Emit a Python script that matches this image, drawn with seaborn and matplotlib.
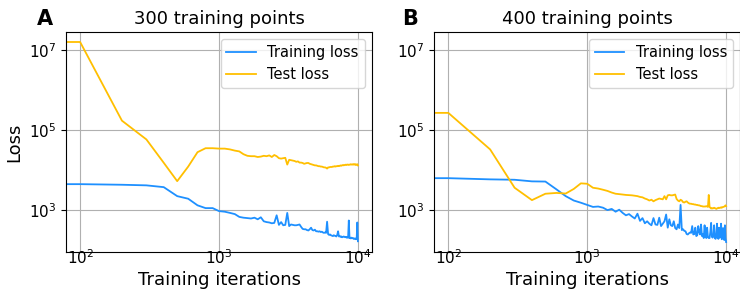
import matplotlib
matplotlib.use("Agg")
import numpy as np
import pandas as pd
import matplotlib.pyplot as plt
import seaborn as sns
from matplotlib.ticker import NullLocator

# loss values, stored as log10(loss), one every 100 iterations
iterations = list(range(0, 10001, 100))

train_a_log = [
    3.65, 3.65, 3.635, 3.62, 3.575, 3.35, 3.285, 3.12, 3.05, 3.05,
    2.975, 2.96, 2.93, 2.90, 2.83, 2.81, 2.80, 2.79, 2.81, 2.77,
    2.82, 2.72, 2.70, 2.69, 2.67, 2.68, 2.87, 2.63, 2.70, 2.62,
    2.63, 2.93, 2.60, 2.64, 2.63, 2.62, 2.62, 2.63, 2.64, 2.58,
    2.53, 2.52, 2.52, 2.50, 2.49, 2.52, 2.56, 2.50, 2.49, 2.51,
    2.47, 2.47, 2.46, 2.47, 2.45, 2.46, 2.44, 2.43, 2.44, 2.43,
    2.71, 2.40, 2.38, 2.39, 2.37, 2.36, 2.35, 2.37, 2.36, 2.35,
    2.34, 2.38, 2.47, 2.34, 2.35, 2.33, 2.34, 2.32, 2.33, 2.34,
    2.33, 2.32, 2.33, 2.31, 2.32, 2.31, 2.74, 2.30, 2.31, 2.29,
    2.31, 2.30, 2.30, 2.28, 2.29, 2.28, 2.29, 2.27, 2.28, 2.69,
    2.22,
]
test_a_log = [
    7.21, 7.21, 5.24, 4.77, 4.185, 3.725, 4.09, 4.45, 4.55, 4.55,
    4.54, 4.54, 4.52, 4.49, 4.47, 4.40, 4.36, 4.35, 4.35, 4.33,
    4.34, 4.36, 4.35, 4.37, 4.33, 4.38, 4.35, 4.30, 4.29, 4.30,
    4.31, 4.14, 4.26, 4.25, 4.24, 4.23, 4.21, 4.22, 4.19, 4.19,
    4.18, 4.16, 4.17, 4.18, 4.18, 4.16, 4.15, 4.14, 4.13, 4.12,
    4.12, 4.11, 4.10, 4.10, 4.09, 4.09, 4.08, 4.07, 4.07, 4.06,
    4.04, 4.07, 4.07, 4.08, 4.08, 4.08, 4.09, 4.09, 4.10, 4.09,
    4.10, 4.10, 4.11, 4.10, 4.11, 4.12, 4.11, 4.12, 4.13, 4.12,
    4.13, 4.13, 4.14, 4.13, 4.14, 4.14, 4.13, 4.14, 4.14, 4.15,
    4.14, 4.14, 4.15, 4.14, 4.15, 4.14, 4.15, 4.13, 4.14, 4.15,
    4.12,
]
train_b_log = [
    3.80, 3.80, 3.77, 3.76, 3.72, 3.715, 3.52, 3.35, 3.24, 3.185,
    3.13, 3.08, 3.09, 3.06, 3.00, 3.03, 2.96, 3.01, 2.93, 2.87,
    2.90, 2.84, 2.79, 2.91, 2.73, 2.80, 2.67, 2.72, 2.66, 2.62,
    2.80, 2.64, 2.63, 2.81, 2.60, 2.66, 2.72, 2.89, 2.56, 2.77,
    2.62, 2.60, 2.72, 2.55, 2.52, 2.64, 2.55, 3.13, 2.50, 2.52,
    2.48, 2.47, 2.40, 2.39, 2.42, 2.44, 2.43, 2.60, 2.39, 2.40,
    2.56, 2.35, 2.37, 2.60, 2.45, 2.39, 2.64, 2.35, 2.40, 2.30,
    2.62, 2.35, 2.30, 2.56, 2.32, 2.30, 2.30, 2.45, 2.68, 2.33,
    2.31, 2.35, 2.62, 2.30, 2.28, 2.35, 2.66, 2.30, 2.28, 2.56,
    2.31, 2.33, 2.66, 2.27, 2.31, 2.55, 2.28, 2.25, 2.62, 2.30,
    2.20,
]
test_b_log = [
    5.435, 5.435, 4.52, 3.56, 3.25, 3.41, 3.43, 3.415, 3.53, 3.67,
    3.66, 3.56, 3.54, 3.51, 3.48, 3.44, 3.41, 3.40, 3.39, 3.38,
    3.375, 3.37, 3.36, 3.35, 3.33, 3.32, 3.29, 3.27, 3.24, 3.26,
    3.22, 3.25, 3.27, 3.29, 3.28, 3.27, 3.35, 3.27, 3.37, 3.38,
    3.37, 3.37, 3.38, 3.39, 3.28, 3.24, 3.22, 3.26, 3.24, 3.20,
    3.19, 3.21, 3.22, 3.19, 3.17, 3.16, 3.16, 3.15, 3.15, 3.14,
    3.14, 3.13, 3.13, 3.12, 3.12, 3.11, 3.10, 3.10, 3.09, 3.09,
    3.09, 3.09, 3.10, 3.09, 3.08, 3.38, 3.08, 3.06, 3.04, 3.05,
    3.04, 3.05, 3.06, 3.05, 3.04, 3.03, 3.04, 3.05, 3.06, 3.05,
    3.06, 3.06, 3.07, 3.06, 3.07, 3.08, 3.08, 3.09, 3.10, 3.12,
    3.10,
]

panels = [
    ("A", "300 training points", train_a_log, test_a_log),
    ("B", "400 training points", train_b_log, test_b_log),
]

blue = "#1E90FF"
yellow = "#FFBF00"

plt.rcParams['font.family'] = ['DejaVu Sans']

fig, axes = plt.subplots(1, 2, figsize=(7.4, 2.99), dpi=100, sharey=True)
fig.subplots_adjust(left=0.0895, right=1.0, top=0.893, bottom=0.157, wspace=0.205)

for ax, (letter, title, tr, te) in zip(axes, panels):
    df = pd.DataFrame({
        "iteration": iterations,
        "train": 10 ** np.array(tr),
        "test": 10 ** np.array(te),
    })
    sns.lineplot(data=df, x="iteration", y="train", ax=ax, color=blue,
                 linewidth=1.3, label="Training loss")
    sns.lineplot(data=df, x="iteration", y="test", ax=ax, color=yellow,
                 linewidth=1.3, label="Test loss")
    ax.set_xscale("log")
    ax.set_yscale("log")
    ax.set_xticks([1e2, 1e3, 1e4])
    ax.set_yticks([1e3, 1e5, 1e7])
    ax.xaxis.set_minor_locator(NullLocator())
    ax.yaxis.set_minor_locator(NullLocator())
    ax.yaxis.set_tick_params(labelleft=True)
    ax.tick_params(labelsize=11)
    # x tick labels sit tight against the bottom spine in the original
    ax.tick_params(axis="x", length=0, pad=-2.5)
    ax.grid(True, color="#b0b0b0", linewidth=0.8)
    ax.set_axisbelow(True)
    ax.set_title(title, fontsize=13)
    ax.set_xlabel("Training iterations", fontsize=13, labelpad=3)
    ax.set_ylabel("")
    ax.legend(loc="upper right", fontsize=10.5)

axes[0].set_ylabel("Loss", fontsize=13)

fig.text(0.05, 0.916, "A", fontsize=15, fontweight="bold", va="baseline")
fig.text(0.543, 0.916, "B", fontsize=15, fontweight="bold", va="baseline")

fig.savefig("out.png", dpi=100)
